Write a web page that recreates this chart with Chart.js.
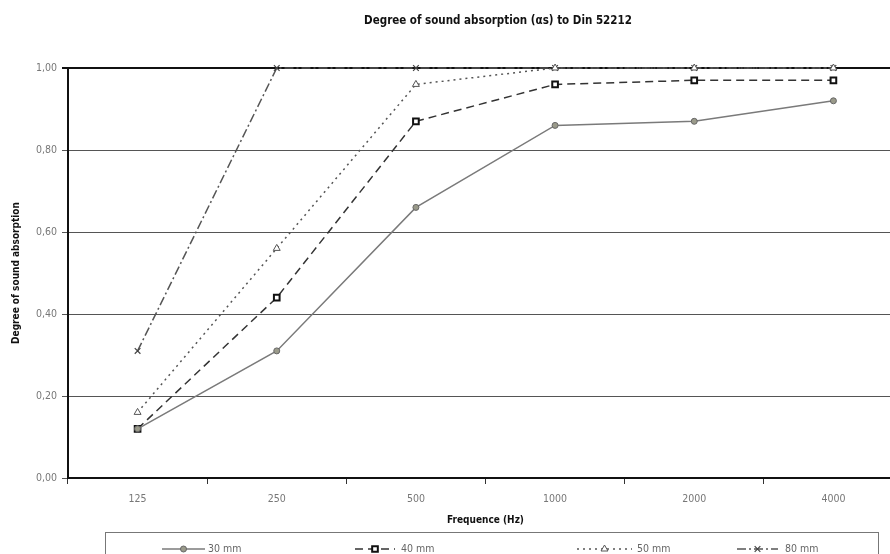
<!DOCTYPE html>
<html>
<head>
<meta charset="utf-8">
<script src="https://cdn.jsdelivr.net/npm/chart.js@4.4.1/dist/chart.umd.min.js"></script>
<style>
  html, body { margin: 0; padding: 0; background: #fff; overflow: hidden; }
  #wrap { width: 909px; height: 554px; }
</style>
</head>
<body>
<div id="wrap"><canvas id="absChart" width="909" height="554"></canvas></div>
<script>
const frequencies = ['125', '250', '500', '1000', '2000', '4000'];
const mm30 = [0.12, 0.31, 0.66, 0.86, 0.87, 0.92];
const mm40 = [0.12, 0.44, 0.87, 0.96, 0.97, 0.97];
const mm50 = [0.16, 0.56, 0.96, 1.00, 1.00, 1.00];
const mm80 = [0.31, 1.00, 1.00, 1.00, 1.00, 1.00];
const yTicks = [0, 0.2, 0.4, 0.6, 0.8, 1.0];

const condensed = '"DejaVu Sans Condensed", "DejaVu Sans", sans-serif';

// title + boxed legend drawn by hand so they sit where the original has them
const extras = {
    id: 'extras',
    afterDraw(chart) {
        const ctx = chart.ctx;
        ctx.save();
        ctx.fillStyle = '#111';
        ctx.font = 'bold 11.5px ' + condensed;
        ctx.textAlign = 'center';
        ctx.textBaseline = 'middle';
        ctx.fillText('Degree of sound absorption (\u03b1s) to Din 52212', 498, 21);

        // legend box
        ctx.strokeStyle = '#777';
        ctx.lineWidth = 1;
        ctx.strokeRect(105.5, 532.5, 773, 30);

        const slots = [
            { x1: 162, x2: 205, tx: 208 },
            { x1: 355, x2: 395, tx: 401 },
            { x1: 577, x2: 632, tx: 637 },
            { x1: 737, x2: 778, tx: 785 }
        ];
        chart.data.datasets.forEach((ds, i) => {
            const s = slots[i];
            const y = 549;
            ctx.save();
            ctx.strokeStyle = ds.borderColor;
            ctx.lineWidth = ds.borderWidth;
            ctx.setLineDash(ds.borderDash || []);
            ctx.beginPath();
            ctx.moveTo(s.x1, y);
            ctx.lineTo(s.x2, y);
            ctx.stroke();
            ctx.restore();
            ctx.save();
            ctx.fillStyle = ds.pointBackgroundColor;
            ctx.strokeStyle = ds.pointBorderColor;
            ctx.lineWidth = ds.pointBorderWidth;
            Chart.helpers.drawPoint(ctx, {
                pointStyle: ds.pointStyle,
                radius: ds.pointRadius,
                borderWidth: ds.pointBorderWidth,
                rotation: 0
            }, (s.x1 + s.x2) / 2, y);
            ctx.restore();
            ctx.fillStyle = '#666';
            ctx.font = '10.5px ' + condensed;
            ctx.textAlign = 'left';
            ctx.fillText(ds.label, s.tx, y);
        });
        ctx.restore();
    }
};

const ctx = document.getElementById('absChart').getContext('2d');
const absChart = new Chart(ctx, {
    type: 'line',
    data: {
        labels: frequencies,
        datasets: [
            { label: '30 mm', data: mm30, borderColor: '#7a7a7a', borderWidth: 1.5, pointStyle: 'circle', pointRadius: 3,
              pointBackgroundColor: '#9a9a8a', pointBorderColor: '#666', pointBorderWidth: 1 },
            { label: '40 mm', data: mm40, borderColor: '#333', borderWidth: 1.5, borderDash: [8, 5], pointStyle: 'rect', pointRadius: 4,
              pointBackgroundColor: '#fff', pointBorderColor: '#111', pointBorderWidth: 2 },
            { label: '50 mm', data: mm50, borderColor: '#555', borderWidth: 1.5, borderDash: [2, 4], pointStyle: 'triangle', pointRadius: 4,
              pointBackgroundColor: '#fff', pointBorderColor: '#555', pointBorderWidth: 1 },
            { label: '80 mm', data: mm80, borderColor: '#555', borderWidth: 1.5, borderDash: [9, 3, 2, 3], pointStyle: 'crossRot', pointRadius: 4,
              pointBackgroundColor: '#fff', pointBorderColor: '#444', pointBorderWidth: 1.2 }
        ]
    },
    options: {
        responsive: false,
        animation: false,
        clip: false,
        layout: { padding: { top: 68, left: 0, right: 0, bottom: 24 } },
        scales: {
            x: {
                offset: true,
                grid: { offset: true, drawOnChartArea: false, drawTicks: true, tickLength: 6, color: '#333', lineWidth: 1 },
                border: { color: '#111', width: 2 },
                ticks: { color: '#777', font: { family: condensed, size: 10.5 }, padding: 9, maxRotation: 0 },
                title: { display: true, text: 'Frequence (Hz)', color: '#111', font: { family: condensed, size: 10, weight: 'bold' }, padding: { top: 2, bottom: 4 } },
                afterFit: (scale) => { scale.height = 52; }
            },
            y: {
                min: 0,
                max: 1,
                afterBuildTicks: (scale) => { scale.ticks = yTicks.map(v => ({ value: v })); },
                grid: {
                    color: (c) => c.tick && c.tick.value === 1 ? '#111' : '#555',
                    lineWidth: (c) => c.tick && c.tick.value === 1 ? 2 : 1,
                    tickLength: 6
                },
                border: { color: '#111', width: 2 },
                ticks: {
                    color: '#777',
                    font: { family: condensed, size: 10.5 },
                    padding: 5,
                    callback: (v) => Number(v).toFixed(2).replace('.', ',')
                },
                title: { display: true, text: 'Degree of sound absorption', color: '#111', font: { family: condensed, size: 10, weight: 'bold' }, padding: { top: 10, bottom: 0 } },
                afterFit: (scale) => { scale.width = 68; }
            }
        },
        plugins: {
            legend: { display: false },
            tooltip: { enabled: false }
        }
    },
    plugins: [extras]
});
</script>
</body>
</html>
